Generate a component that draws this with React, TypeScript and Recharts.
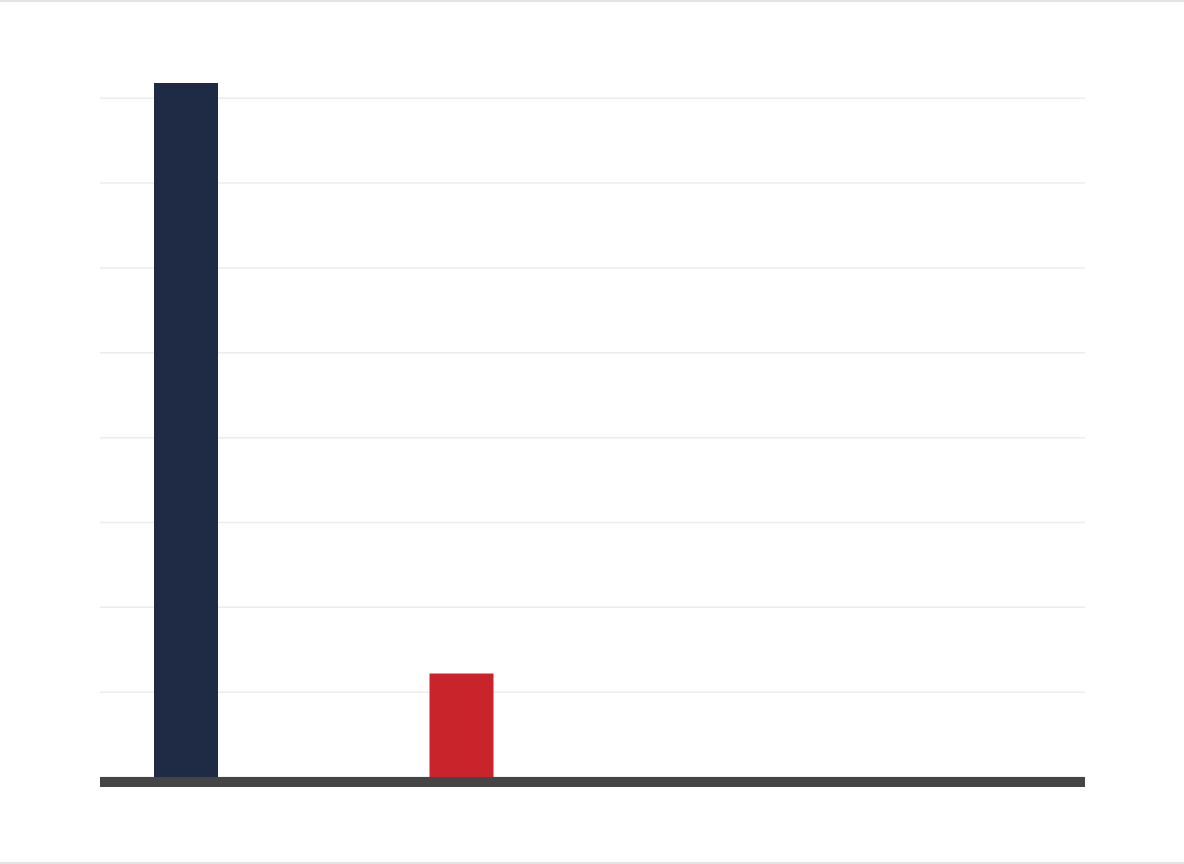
import { BarChart, Bar, XAxis, YAxis, CartesianGrid, Cell } from "recharts";

// two bars, no visible labels in the reference
const categories = ["A", "B"];
const values = [818, 122];
const barColors = ["#1f2a44", "#c9232b"];
const yTicks = [0, 100, 200, 300, 400, 500, 600, 700, 800];

const chartData = categories.map((name, i) => ({ name, value: values[i] }));

export default function App() {
  return (
    <div
      style={{
        position: "absolute",
        left: 0,
        top: 0,
        width: 1184,
        height: 864,
        background: "#ffffff",
        borderTop: "2px solid #e4e4e4",
        borderBottom: "2px solid #e4e4e4",
        boxSizing: "border-box",
      }}
    >
      <BarChart
        width={1184}
        height={860}
        data={chartData}
        margin={{ top: 81, right: 99, left: 100, bottom: 55 }}
      >
        <CartesianGrid
          vertical={false}
          horizontalValues={yTicks}
          stroke="#ececec"
          strokeWidth={1.5}
        />
        <XAxis
          dataKey="name"
          tick={false}
          tickLine={false}
          height={30}
          padding={{ left: -52, right: 486 }}
          axisLine={{ stroke: "#454545", strokeWidth: 10, transform: "translate(0,5)" }}
        />
        <YAxis hide domain={[0, "dataMax"]} ticks={yTicks} />
        <Bar dataKey="value" barSize={64} isAnimationActive={false}>
          {chartData.map((d, i) => (
            <Cell key={d.name} fill={barColors[i]} />
          ))}
        </Bar>
      </BarChart>
    </div>
  );
}
